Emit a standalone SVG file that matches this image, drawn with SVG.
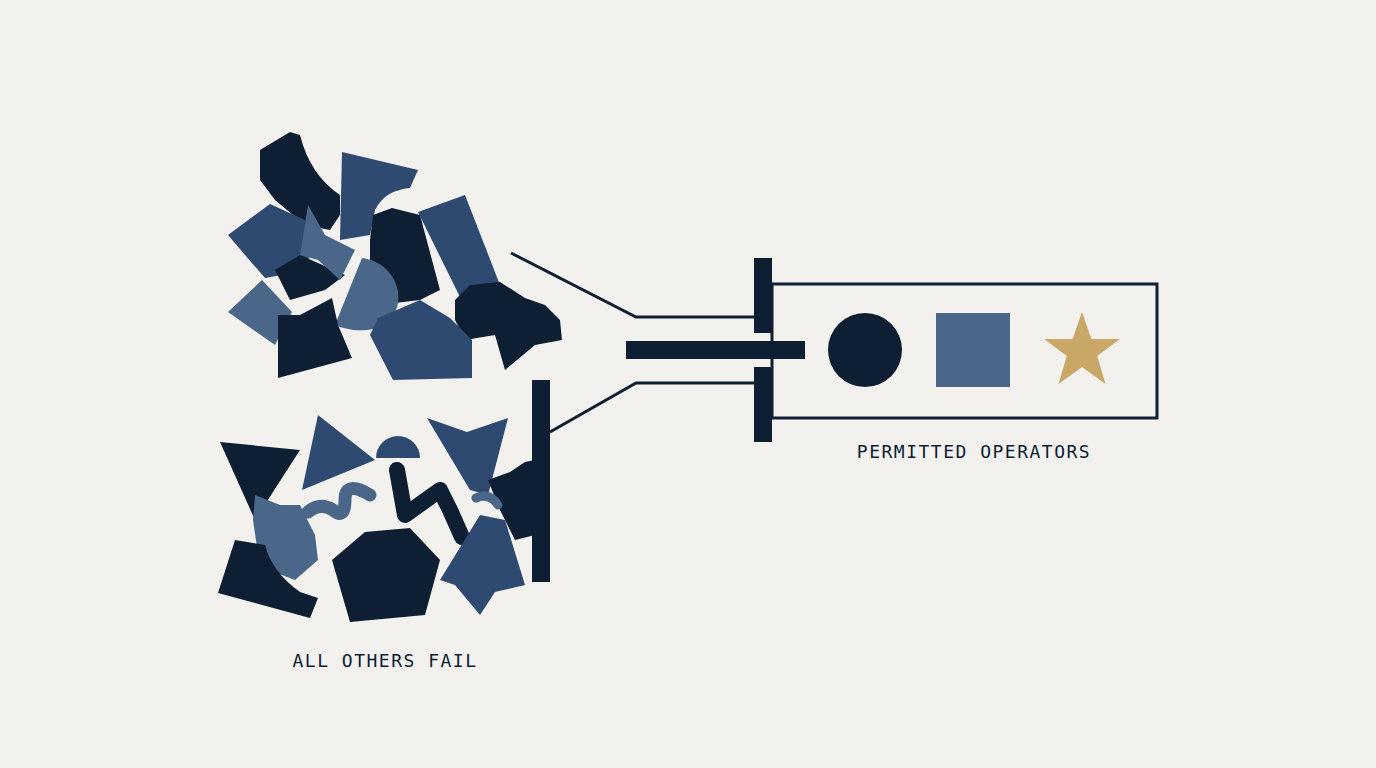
<svg xmlns="http://www.w3.org/2000/svg" width="1376" height="768" viewBox="0 0 1376 768">
<style>
.d{fill:#0e1e33}.m{fill:#2e4a70}.l{fill:#4a6789}
.ln{stroke:#0e1e33;stroke-width:3;fill:none}
.t{font-family:"DejaVu Sans Mono","Liberation Mono",monospace;font-size:18px;fill:#0e1e33;letter-spacing:1.5px;text-anchor:middle}
</style>
<rect width="1376" height="768" fill="#f2f1ed"/>
<g id="rejected-top">
<path class="d" d="M260,150 L290,132 L300,135 Q310,175 340,195 L340,215 L330,230 L305,225 L275,200 L260,180 Z"/>
<path class="m" d="M342,152 L418,170 L410,188 Q385,190 375,210 L370,235 L340,240 Z"/>
<path class="m" d="M228,235 L270,204 L305,220 L310,270 L265,278 L245,255 Z"/>
<path class="d" d="M275,270 L300,255 L345,275 L325,290 L290,300 Z"/>
<path class="l" d="M308,205 L325,235 L355,250 L340,280 L318,260 L300,255 Z"/>
<path class="d" d="M373,215 L392,208 L420,215 L440,290 L420,300 L395,303 L370,265 L370,240 Z"/>
<path class="m" d="M418,212 L465,195 L500,285 L460,297 Z"/>
<path class="l" d="M362,258 C395,262 410,300 388,322 C375,333 350,332 335,325 Z"/>
<path class="d" d="M455,300 L470,285 L500,282 L525,298 L545,305 L560,320 L562,340 L535,345 L505,370 L495,335 L465,340 L455,320 Z"/>
<path class="m" d="M370,335 L378,318 L420,300 L450,318 L472,340 L472,378 L393,380 Z"/>
<path class="l" d="M228,312 L262,280 L292,312 L275,345 Z"/>
<path class="d" d="M278,315 L300,315 L332,298 L338,325 L352,358 L278,378 Z"/>
</g>
<g id="rejected-bottom">
<path class="d" d="M220,442 L300,450 L255,520 Z"/>
<path class="m" d="M318,415 L375,460 L302,490 Z"/>
<path class="l" d="M255,495 L280,505 L300,505 L315,535 L318,560 L295,580 L282,575 L260,568 L253,520 Z"/>
<path d="M308,512 Q320,502 333,510 Q345,520 345,500 Q345,480 370,495" stroke="#4a6789" stroke-width="13" fill="none" stroke-linecap="round"/>
<path class="m" d="M376,458 A22,22 0 1 1 420,458 Z"/>
<path d="M397,470 L405,515 L440,490 L450,510 L462,537" stroke="#0e1e33" stroke-width="16" fill="none" stroke-linecap="round" stroke-linejoin="round"/>
<path class="m" d="M427,418 L467,432 L508,418 L488,495 L470,490 Z"/>
<path class="d" d="M488,480 L510,472 L525,462 L535,460 L535,535 L515,540 L500,510 Z"/>
<path d="M476,498 Q490,492 498,505" stroke="#4a6789" stroke-width="9" fill="none" stroke-linecap="round"/>
<path class="d" d="M332,560 L365,532 L410,528 L440,560 L425,615 L350,622 Z"/>
<path class="d" d="M235,540 L265,545 Q272,572 300,592 L318,598 L310,618 L218,593 Z"/>
<path class="m" d="M440,580 L480,515 L505,520 L525,585 L495,592 L480,615 L455,585 Z"/>
</g>
<g id="connectors">
<path class="ln" d="M511,253 L636,317 L757,317"/>
<path class="ln" d="M550,432 L636,383 L757,383"/>
<rect class="d" x="532" y="380" width="18" height="202"/>
<rect class="d" x="626" y="341" width="179" height="18"/>
<rect class="d" x="754" y="258" width="18" height="75"/>
<rect class="d" x="754" y="367" width="18" height="75"/>
</g>
<g id="permitted">
<rect class="ln" x="772" y="284" width="385" height="134"/>
<circle class="d" cx="865" cy="350" r="37"/>
<rect class="l" x="936" y="313" width="74" height="74"/>
<polygon fill="#c9a867" points="1082,312 1091.4,339 1120,339 1097.2,356 1105.5,384 1082,367 1058.5,384 1066.8,356 1044,339 1072.6,339"/>
</g>
<text class="t" x="974" y="458">PERMITTED OPERATORS</text>
<text class="t" x="385" y="667">ALL OTHERS FAIL</text>
</svg>
